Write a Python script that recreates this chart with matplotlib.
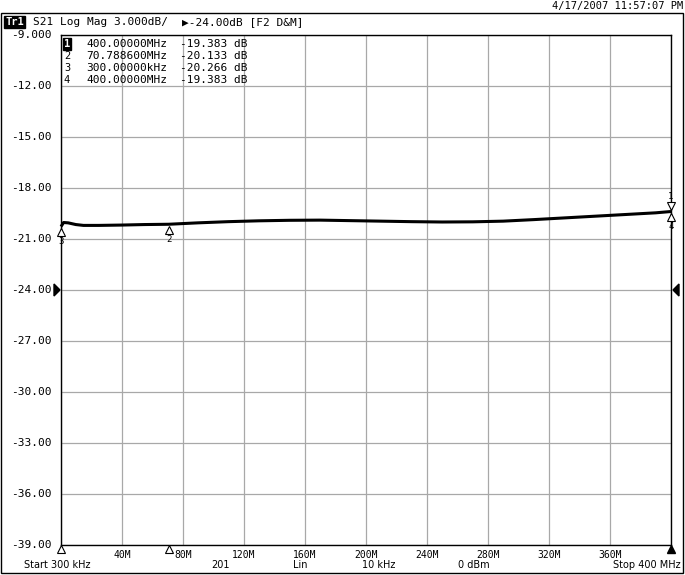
import numpy as np
import matplotlib
matplotlib.use("Agg")
import matplotlib.pyplot as plt
from matplotlib.patches import Rectangle, Polygon
import matplotlib.transforms as mtransforms

# ---- data ----
freq_mhz = [0.3, 2, 5, 10, 15, 25, 40, 55, 70.79, 90, 110, 130, 150, 170, 190,
            210, 230, 250, 270, 290, 310, 330, 350, 370, 390, 400]
s21_db = [-20.27, -20.03, -20.05, -20.15, -20.2, -20.2, -20.18, -20.15, -20.133,
          -20.05, -19.98, -19.93, -19.9, -19.89, -19.92, -19.95, -19.98, -20.0,
          -19.99, -19.95, -19.86, -19.76, -19.66, -19.56, -19.46, -19.383]
marker_ids = ["1", "2", "3", "4"]
marker_freq = [400.0, 70.7886, 0.3, 400.0]
marker_db = [-19.383, -20.133, -20.266, -19.383]
marker_freq_txt = ["400.00000MHz", "70.788600MHz", "300.00000kHz", "400.00000MHz"]
marker_db_txt = ["-19.383 dB", "-20.133 dB", "-20.266 dB", "-19.383 dB"]
y_ticks = [-9, -12, -15, -18, -21, -24, -27, -30, -33, -36, -39]
y_labels = ["-9.000", "-12.00", "-15.00", "-18.00", "-21.00", "-24.00",
            "-27.00", "-30.00", "-33.00", "-36.00", "-39.00"]
x_labels = ["", "40M", "80M", "120M", "160M", "200M", "240M", "280M", "320M", "360M", ""]

W, H = 685, 575
fig = plt.figure(figsize=(W / 100, H / 100), dpi=100)
MONO = "DejaVu Sans Mono"
SANS = "DejaVu Sans"

def fx(x):
    return x / W

def fy(y):
    return 1 - y / H

L, R, T, B = 61, 671, 35, 545
ax = fig.add_axes([fx(L), fy(B), (R - L) / W, (B - T) / H])
ax.set_xlim(0.3, 400)
ax.set_ylim(-39, -9)
xt = np.linspace(0.3, 400, 11)
ax.set_xticks(xt)
ax.set_xticklabels([])
ax.set_yticks(y_ticks)
ax.set_yticklabels([])
ax.tick_params(length=0)
ax.grid(True, color="#a8a8a8", linewidth=0.9)
for s in ax.spines.values():
    s.set_linewidth(1.0)
    s.set_color("black")

# trace
ax.plot(freq_mhz, s21_db, color="black", linewidth=2.2, solid_capstyle="butt", zorder=5, clip_on=False)

# markers on trace
for mid, f, v in zip(marker_ids, marker_freq, marker_db):
    if mid == "1":
        tr = mtransforms.offset_copy(ax.transData, fig=fig, x=0, y=4, units="points")
        ax.plot([f], [v], marker="v", markersize=6, markerfacecolor="white",
                markeredgecolor="black", markeredgewidth=0.8, transform=tr, clip_on=False, zorder=6)
        tr2 = mtransforms.offset_copy(ax.transData, fig=fig, x=0, y=11, units="points")
        ax.text(f, v, mid, transform=tr2, ha="center", va="center", fontsize=6.5, family=MONO, zorder=7)
    else:
        tr = mtransforms.offset_copy(ax.transData, fig=fig, x=0, y=-4, units="points")
        ax.plot([f], [v], marker="^", markersize=6, markerfacecolor="white",
                markeredgecolor="black", markeredgewidth=0.8, transform=tr, clip_on=False, zorder=6)
        tr2 = mtransforms.offset_copy(ax.transData, fig=fig, x=0, y=-11, units="points")
        ax.text(f, v, mid, transform=tr2, ha="center", va="center", fontsize=6.5, family=MONO, zorder=7)

# y tick labels
for v, lab in zip(y_ticks, y_labels):
    ax.text(-0.015, (v + 39) / 30, lab, transform=ax.transAxes, ha="right", va="center",
            fontsize=8, family=MONO)

# x tick labels
for xv, lab in zip(xt, x_labels):
    if lab:
        ax.text(xv, -0.0098, lab, transform=ax.get_xaxis_transform(), ha="center", va="top",
                fontsize=7, family=MONO)

# x-axis marker indicators
for f in [marker_freq[2], marker_freq[1]]:
    ax.plot([f], [-39], marker="^", markersize=6, markerfacecolor="white", markeredgecolor="black",
            markeredgewidth=0.8, transform=mtransforms.offset_copy(ax.transData, fig=fig, x=0, y=-3.2, units="points"),
            clip_on=False, zorder=6)
ax.plot([400], [-39], marker="^", markersize=6, color="black",
        transform=mtransforms.offset_copy(ax.transData, fig=fig, x=0, y=-3.2, units="points"),
        clip_on=False, zorder=6)

# reference level pointers
fig.patches.append(Polygon([[fx(54), fy(284)], [fx(54), fy(296)], [fx(60), fy(290)]], closed=True,
                           transform=fig.transFigure, color="black"))
fig.patches.append(Polygon([[fx(679), fy(284)], [fx(679), fy(296)], [fx(673), fy(290)]], closed=True,
                           transform=fig.transFigure, color="black"))

# legend rows
row_y = [44, 56, 68, 80]
for i, (mid, ft, dt) in enumerate(zip(marker_ids, marker_freq_txt, marker_db_txt)):
    if i == 0:
        fig.text(fx(67), fy(row_y[i]), mid, ha="center", va="center", fontsize=7.5, family=MONO,
                 color="white", fontweight="bold",
                 bbox=dict(boxstyle="square,pad=0.1", fc="black", ec="black"))
    else:
        fig.text(fx(67), fy(row_y[i]), mid, ha="center", va="center", fontsize=7.5, family=MONO)
    fig.text(fx(86), fy(row_y[i]), ft, ha="left", va="center", fontsize=8, family=MONO)
    fig.text(fx(180), fy(row_y[i]), dt, ha="left", va="center", fontsize=8, family=MONO)

# outer frame
fig.patches.append(Rectangle((fx(1), fy(573)), (683 - 1) / W, (573 - 13) / H, transform=fig.transFigure,
                             fill=False, edgecolor="black", linewidth=1.0))

# header
fig.text(fx(683), fy(5.5), "4/17/2007 11:57:07 PM", ha="right", va="center", fontsize=7.5, family=MONO)
fig.text(fx(5), fy(22), "Tr1", ha="left", va="center", fontsize=7.5, family=MONO, color="white",
         fontweight="bold", bbox=dict(boxstyle="square,pad=0.1", fc="black", ec="black"))
fig.text(fx(33), fy(22), "S21 Log Mag 3.000dB/", ha="left", va="center", fontsize=8, family=MONO)
fig.text(fx(182), fy(22), "\u25b6-24.00dB [F2 D&M]", ha="left", va="center", fontsize=8, family=MONO)

# bottom status line
by = 565.5
fig.text(fx(24), fy(by), "Start 300 kHz", ha="left", va="center", fontsize=7, family=SANS)
fig.text(fx(221), fy(by), "201", ha="center", va="center", fontsize=7, family=SANS)
fig.text(fx(300), fy(by), "Lin", ha="center", va="center", fontsize=7, family=SANS)
fig.text(fx(379), fy(by), "10 kHz", ha="center", va="center", fontsize=7, family=SANS)
fig.text(fx(474), fy(by), "0 dBm", ha="center", va="center", fontsize=7, family=SANS)
fig.text(fx(681), fy(by), "Stop 400 MHz", ha="right", va="center", fontsize=7, family=SANS)

fig.savefig("out.png", dpi=100)
